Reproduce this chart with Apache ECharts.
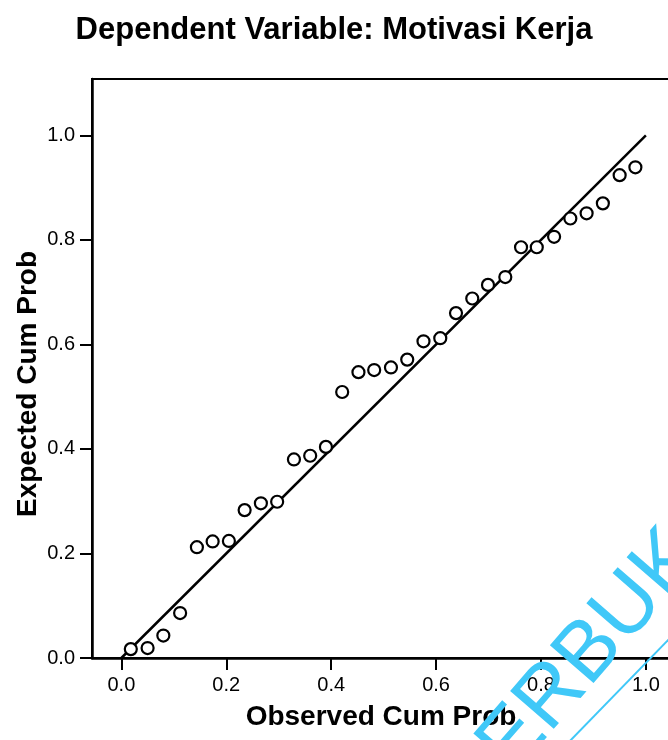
<!DOCTYPE html>
<html>
<head>
<meta charset="utf-8">
<script src="https://cdn.jsdelivr.net/npm/echarts@6/dist/echarts.min.js"></script>
<style>
html,body{margin:0;padding:0;background:#fff;}
#chart{width:668px;height:740px;}
</style>
</head>
<body>
<div id="chart"></div>
<script>
// Data
var titleText = 'Dependent Variable: Motivasi Kerja';
var xTitle = 'Observed Cum Prob';
var yTitle = 'Expected Cum Prob';
var xTicks = [0.0, 0.2, 0.4, 0.6, 0.8, 1.0];
var yTicks = [0.0, 0.2, 0.4, 0.6, 0.8, 1.0];
var observed = [0.018,0.050,0.080,0.112,0.144,0.174,0.205,0.235,0.266,0.297,0.329,0.360,0.390,0.421,0.452,0.482,0.514,0.545,0.576,0.608,0.638,0.669,0.699,0.732,0.762,0.792,0.825,0.856,0.887,0.918,0.950,0.980];
var expected = [0.017,0.019,0.043,0.086,0.212,0.223,0.224,0.283,0.296,0.299,0.380,0.387,0.404,0.509,0.547,0.551,0.556,0.571,0.606,0.612,0.660,0.688,0.714,0.729,0.786,0.786,0.806,0.841,0.851,0.870,0.924,0.939];
var refLineX = [0, 1];
var refLineY = [0, 1];
var watermarkText = 'ERBUK';

var points = observed.map(function(v, i){ return [v, expected[i]]; });
var refLine = refLineX.map(function(v, i){ return [v, refLineY[i]]; });

var FONT = "'Liberation Sans', Arial, Helvetica, sans-serif";
var chart = echarts.init(document.getElementById('chart'), null, {renderer: 'canvas'});

function axisCommon(ticks) {
  return {
    type: 'value',
    axisLine: {show: true, onZero: false, lineStyle: {color: '#000', width: 2.5}},
    axisTick: {show: true, inside: false, length: 12, customValues: ticks, lineStyle: {color: '#000', width: 2}},
    axisLabel: {show: true, customValues: ticks, margin: 17, color: '#000', fontSize: 20, fontFamily: FONT,
      formatter: function(v){ return Number(v).toFixed(1); }},
    splitLine: {show: false}
  };
}

var xAxis = axisCommon(xTicks);
xAxis.min = -0.056; xAxis.max = 1.046;
xAxis.name = xTitle; xAxis.nameLocation = 'middle'; xAxis.nameGap = 45;
xAxis.nameTextStyle = {color: '#000', fontSize: 28, fontWeight: 'bold', fontFamily: FONT};

var yAxis = axisCommon(yTicks);
yAxis.min = 0; yAxis.max = 1.108;
yAxis.axisLabel.margin = 17;

chart.setOption({
  backgroundColor: '#fff',
  animation: false,
  title: {
    text: titleText, left: 'center', top: 10,
    textStyle: {color: '#000', fontSize: 31, fontWeight: 'bold', fontFamily: FONT}
  },
  grid: {left: 92, right: -2, top: 79, bottom: 82, show: true, borderColor: '#000', borderWidth: 2,
    backgroundColor: 'transparent', containLabel: false, outerBoundsMode: 'none'},
  xAxis: xAxis,
  yAxis: yAxis,
  series: [
    {
      type: 'line', data: refLine, showSymbol: false, symbol: 'none',
      lineStyle: {color: '#000', width: 2.5}, z: 2, silent: true
    },
    {
      type: 'scatter', data: points, symbol: 'circle', symbolSize: 12,
      itemStyle: {color: '#fff', borderColor: '#000', borderWidth: 2.2, opacity: 1}, z: 3
    }
  ],
  graphic: [
    {
      type: 'text', x: 28, y: 384, rotation: Math.PI / 2,
      style: {text: yTitle, fill: '#000', fontSize: 28, fontWeight: 'bold', fontFamily: FONT, align: 'center', verticalAlign: 'middle'}
    },
    {
      type: 'text', x: 590, y: 652, rotation: 49 * Math.PI / 180, z: 100,
      style: {text: watermarkText, fill: '#40c8f8', fontSize: 84, fontFamily: FONT, align: 'center', verticalAlign: 'middle'}
    },
    {
      type: 'line', z: 100,
      shape: {x1: 566, y1: 745, x2: 672, y2: 636},
      style: {stroke: '#40c8f8', lineWidth: 2}
    }
  ]
});
</script>
</body>
</html>
